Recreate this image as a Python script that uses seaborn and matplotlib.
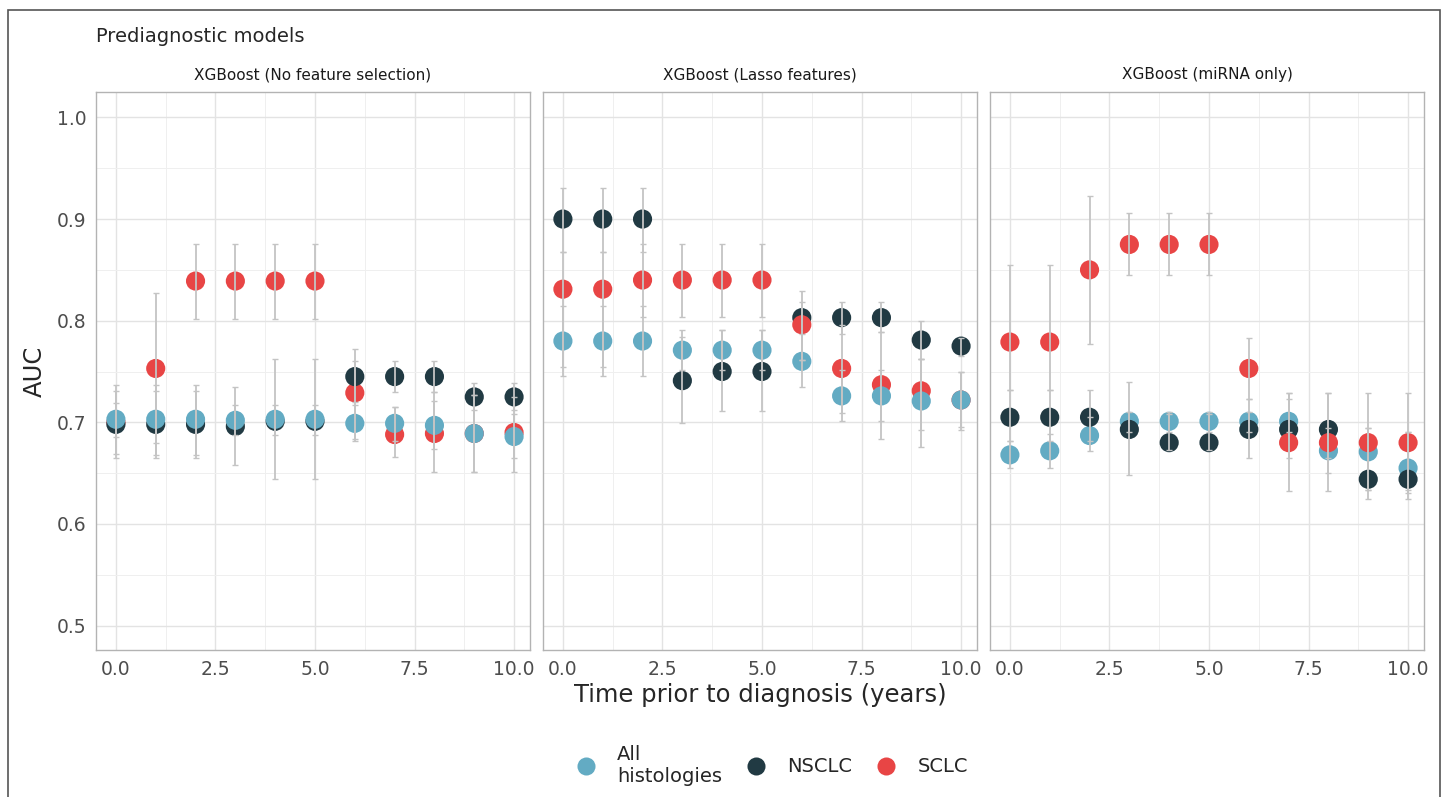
import numpy as np
import pandas as pd
import matplotlib.pyplot as plt
import seaborn as sns
from matplotlib.patches import Rectangle
from matplotlib.lines import Line2D

sns.set_style("white")
plt.rcParams["font.family"] = ["DejaVu Sans"]

years = [0, 1, 2, 3, 4, 5, 6, 7, 8, 9, 10]
panels = ["XGBoost (No feature selection)", "XGBoost (Lasso features)", "XGBoost (miRNA only)"]
groups = ["All histologies", "NSCLC", "SCLC"]
colors = {"All histologies": "#63abc3", "NSCLC": "#213a43", "SCLC": "#e84545"}

# panel 1 - no feature selection
p1_all = [0.703, 0.703, 0.703, 0.702, 0.703, 0.703, 0.699, 0.699, 0.697, 0.689, 0.686]
p1_all_lo = [0.669, 0.668, 0.668, 0.688, 0.688, 0.688, 0.682, 0.682, 0.674, 0.651, 0.665]
p1_all_hi = [0.737, 0.737, 0.737, 0.717, 0.717, 0.717, 0.717, 0.715, 0.721, 0.727, 0.708]
p1_ns = [0.698, 0.698, 0.698, 0.696, 0.701, 0.701, 0.745, 0.745, 0.745, 0.725, 0.725]
p1_ns_lo = [0.665, 0.665, 0.665, 0.658, 0.644, 0.644, 0.720, 0.730, 0.730, 0.712, 0.712]
p1_ns_hi = [0.731, 0.731, 0.731, 0.735, 0.762, 0.762, 0.772, 0.760, 0.760, 0.739, 0.739]
p1_sc = [0.700, 0.753, 0.839, 0.839, 0.839, 0.839, 0.729, 0.688, 0.689, 0.689, 0.690]
p1_sc_lo = [0.686, 0.680, 0.802, 0.802, 0.802, 0.802, 0.684, 0.666, 0.651, 0.651, 0.651]
p1_sc_hi = [0.719, 0.827, 0.875, 0.875, 0.875, 0.875, 0.760, 0.715, 0.730, 0.727, 0.725]

# panel 2 - lasso features
p2_all = [0.780, 0.780, 0.780, 0.771, 0.771, 0.771, 0.760, 0.726, 0.726, 0.721, 0.722]
p2_all_lo = [0.746, 0.746, 0.746, 0.751, 0.751, 0.751, 0.735, 0.709, 0.701, 0.692, 0.692]
p2_all_hi = [0.814, 0.814, 0.814, 0.791, 0.791, 0.791, 0.787, 0.751, 0.751, 0.762, 0.750]
p2_ns = [0.900, 0.900, 0.900, 0.741, 0.750, 0.750, 0.803, 0.803, 0.803, 0.781, 0.775]
p2_ns_lo = [0.868, 0.868, 0.868, 0.699, 0.711, 0.711, 0.761, 0.787, 0.789, 0.762, 0.765]
p2_ns_hi = [0.931, 0.931, 0.931, 0.784, 0.791, 0.791, 0.829, 0.818, 0.818, 0.800, 0.783]
p2_sc = [0.831, 0.831, 0.840, 0.840, 0.840, 0.840, 0.796, 0.753, 0.737, 0.731, 0.722]
p2_sc_lo = [0.754, 0.754, 0.804, 0.804, 0.804, 0.804, 0.761, 0.701, 0.684, 0.676, 0.695]
p2_sc_hi = [0.868, 0.868, 0.875, 0.875, 0.875, 0.875, 0.818, 0.796, 0.789, 0.762, 0.750]

# panel 3 - miRNA only
p3_all = [0.668, 0.672, 0.687, 0.701, 0.701, 0.701, 0.701, 0.701, 0.672, 0.671, 0.655]
p3_all_lo = [0.655, 0.655, 0.672, 0.690, 0.690, 0.690, 0.690, 0.690, 0.650, 0.633, 0.630]
p3_all_hi = [0.682, 0.689, 0.705, 0.710, 0.710, 0.710, 0.710, 0.723, 0.694, 0.694, 0.690]
p3_ns = [0.705, 0.705, 0.705, 0.693, 0.680, 0.680, 0.693, 0.693, 0.693, 0.644, 0.644]
p3_ns_lo = [0.682, 0.682, 0.682, 0.648, 0.673, 0.673, 0.665, 0.665, 0.665, 0.625, 0.625]
p3_ns_hi = [0.732, 0.732, 0.732, 0.740, 0.708, 0.708, 0.723, 0.729, 0.729, 0.694, 0.690]
p3_sc = [0.779, 0.779, 0.850, 0.875, 0.875, 0.875, 0.753, 0.680, 0.680, 0.680, 0.680]
p3_sc_lo = [0.732, 0.732, 0.777, 0.845, 0.845, 0.845, 0.723, 0.632, 0.632, 0.633, 0.633]
p3_sc_hi = [0.855, 0.855, 0.923, 0.906, 0.906, 0.906, 0.783, 0.729, 0.729, 0.729, 0.729]

rows = []
tables = [
    (p1_all, p1_all_lo, p1_all_hi, p1_ns, p1_ns_lo, p1_ns_hi, p1_sc, p1_sc_lo, p1_sc_hi),
    (p2_all, p2_all_lo, p2_all_hi, p2_ns, p2_ns_lo, p2_ns_hi, p2_sc, p2_sc_lo, p2_sc_hi),
    (p3_all, p3_all_lo, p3_all_hi, p3_ns, p3_ns_lo, p3_ns_hi, p3_sc, p3_sc_lo, p3_sc_hi),
]
for pname, t in zip(panels, tables):
    for gi, g in enumerate(groups):
        auc, lo, hi = t[gi * 3], t[gi * 3 + 1], t[gi * 3 + 2]
        for yr, a, l, h in zip(years, auc, lo, hi):
            rows.append({"panel": pname, "group": g, "year": yr, "auc": a, "lo": l, "hi": h})
df = pd.DataFrame(rows)

# draw order per panel (last one ends up on top)
orders = [["SCLC", "NSCLC", "All histologies"],
          ["NSCLC", "SCLC", "All histologies"],
          ["All histologies", "NSCLC", "SCLC"]]

fig = plt.figure(figsize=(14.48, 7.97), dpi=100)
W, H = 1448, 797
lefts = [96, 543, 990]
pw = 434
top, bottom = 92, 650

fig.patches.append(Rectangle((8 / W, -0.01), (1440 - 8) / W, 1 - 10 / H + 0.01,
                             transform=fig.transFigure, fill=False,
                             edgecolor="#555555", linewidth=1.2))

for i, pname in enumerate(panels):
    ax = fig.add_axes([lefts[i] / W, 1 - bottom / H, pw / W, (bottom - top) / H])
    sub = df[df["panel"] == pname]
    for z, g in enumerate(orders[i]):
        d = sub[sub["group"] == g]
        sns.scatterplot(data=d, x="year", y="auc", color=colors[g], s=190,
                        edgecolor="none", ax=ax, zorder=3 + z, legend=False)
    for g in groups:
        d = sub[sub["group"] == g]
        ax.errorbar(d["year"], d["auc"], yerr=[d["auc"] - d["lo"], d["hi"] - d["auc"]],
                    fmt="none", ecolor="#c4c4c4", elinewidth=1.3, capsize=2,
                    capthick=1, zorder=10)
    ax.set_xlim(-0.5, 10.4)
    ax.set_ylim(0.476, 1.025)
    ax.set_xticks([0, 2.5, 5, 7.5, 10])
    ax.set_xticklabels(["0.0", "2.5", "5.0", "7.5", "10.0"])
    ax.set_xticks([1.25, 3.75, 6.25, 8.75], minor=True)
    ax.set_yticks([0.5, 0.6, 0.7, 0.8, 0.9, 1.0])
    ax.set_yticks([0.55, 0.65, 0.75, 0.85, 0.95], minor=True)
    ax.grid(which="major", color="#e3e3e3", linewidth=1.0)
    ax.grid(which="minor", color="#efefef", linewidth=0.7)
    ax.set_axisbelow(True)
    for sp in ax.spines.values():
        sp.set_color("#b3b3b3")
        sp.set_linewidth(1.0)
    ax.tick_params(which="major", length=4, color="#b3b3b3", labelsize=13.5,
                   labelcolor="#4d4d4d", pad=3)
    ax.tick_params(which="minor", length=0)
    if i > 0:
        ax.tick_params(axis="y", which="major", length=0, labelleft=False)
    ax.set_xlabel("")
    ax.set_ylabel("")
    ax.set_title(pname, fontsize=11, color="#1a1a1a", pad=9)

fig.text(96 / W, 1 - 36 / H, "Prediagnostic models", fontsize=14, va="center", ha="left")
fig.text(35 / W, 1 - 371 / H, "AUC", fontsize=17.5, rotation=90, va="center", ha="center")
fig.text(760 / W, 1 - 695 / H, "Time prior to diagnosis (years)", fontsize=17.5,
         va="center", ha="center")

handles = [Line2D([], [], marker="o", linestyle="none", markersize=13,
                  markerfacecolor=colors[g], markeredgecolor="none") for g in groups]
fig.legend(handles, ["All\nhistologies", "NSCLC", "SCLC"], loc="center",
           bbox_to_anchor=(771 / W, 1 - 765 / H), ncol=3, frameon=False,
           fontsize=14, handletextpad=1.0, columnspacing=1.15, handlelength=1.2)

fig.savefig("out.png", dpi=100)
